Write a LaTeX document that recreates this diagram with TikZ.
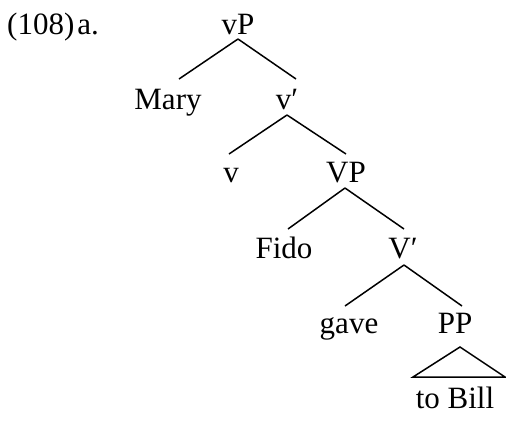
\documentclass[tikz,border=0pt]{standalone}
\usepackage{fontspec}
\setmainfont{Liberation Serif}
\begin{document}
\begin{tikzpicture}[x=1pt,y=-1pt,
  lab/.style={font=\fontsize{31}{31}\selectfont, inner sep=0pt, anchor=base},
  branch/.style={line width=1.5pt}]
\useasboundingbox (0,0) rectangle (506,424);
% example number
\node[font=\fontsize{31}{31}\selectfont, inner sep=0pt, anchor=base west] (num) at (7,34) {(108)\hspace{3pt}a.};
% tree labels
\node[lab] (vP)   at (238,34)  {vP};
\node[lab] (Mary) at (168,109) {Mary};
\node[lab] (v1)   at (287,109) {v′};
\node[lab] (v)    at (231,182) {v};
\node[lab] (VP)   at (346,182) {VP};
\node[lab] (Fido) at (284,258) {Fido};
\node[lab] (V1)   at (403,258) {V′};
\node[lab] (gave) at (349,333) {gave};
\node[lab] (PP)   at (455,333) {PP};
\node[lab] (Bill) at (455,408) {to Bill};
% branches (offsets are taken from each label's baseline)
\draw[branch] ([yshift=-5pt]vP.base) -- ([xshift=11pt,yshift=30pt]Mary.base);
\draw[branch] ([yshift=-5pt]vP.base) -- ([xshift=9pt,yshift=30pt]v1.base);
\draw[branch] ([yshift=-6pt]v1.base) -- ([xshift=-2pt,yshift=28pt]v.base);
\draw[branch] ([yshift=-6pt]v1.base) -- ([yshift=28pt]VP.base);
\draw[branch] ([xshift=-1pt,yshift=-6pt]VP.base) -- ([xshift=4pt,yshift=29pt]Fido.base);
\draw[branch] ([xshift=-1pt,yshift=-6pt]VP.base) -- ([xshift=1pt,yshift=29pt]V1.base);
\draw[branch] ([xshift=1pt,yshift=-7pt]V1.base) -- ([xshift=-4pt,yshift=27pt]gave.base);
\draw[branch] ([xshift=1pt,yshift=-7pt]V1.base) -- ([xshift=7pt,yshift=27pt]PP.base);
% triangle over the unanalysed PP
\draw[branch, line join=miter] ([xshift=5pt,yshift=-14pt]PP.base)
  -- ([xshift=-42pt,yshift=31pt]Bill.base) -- ([xshift=50pt,yshift=31pt]Bill.base) -- cycle;
\end{tikzpicture}
\end{document}
